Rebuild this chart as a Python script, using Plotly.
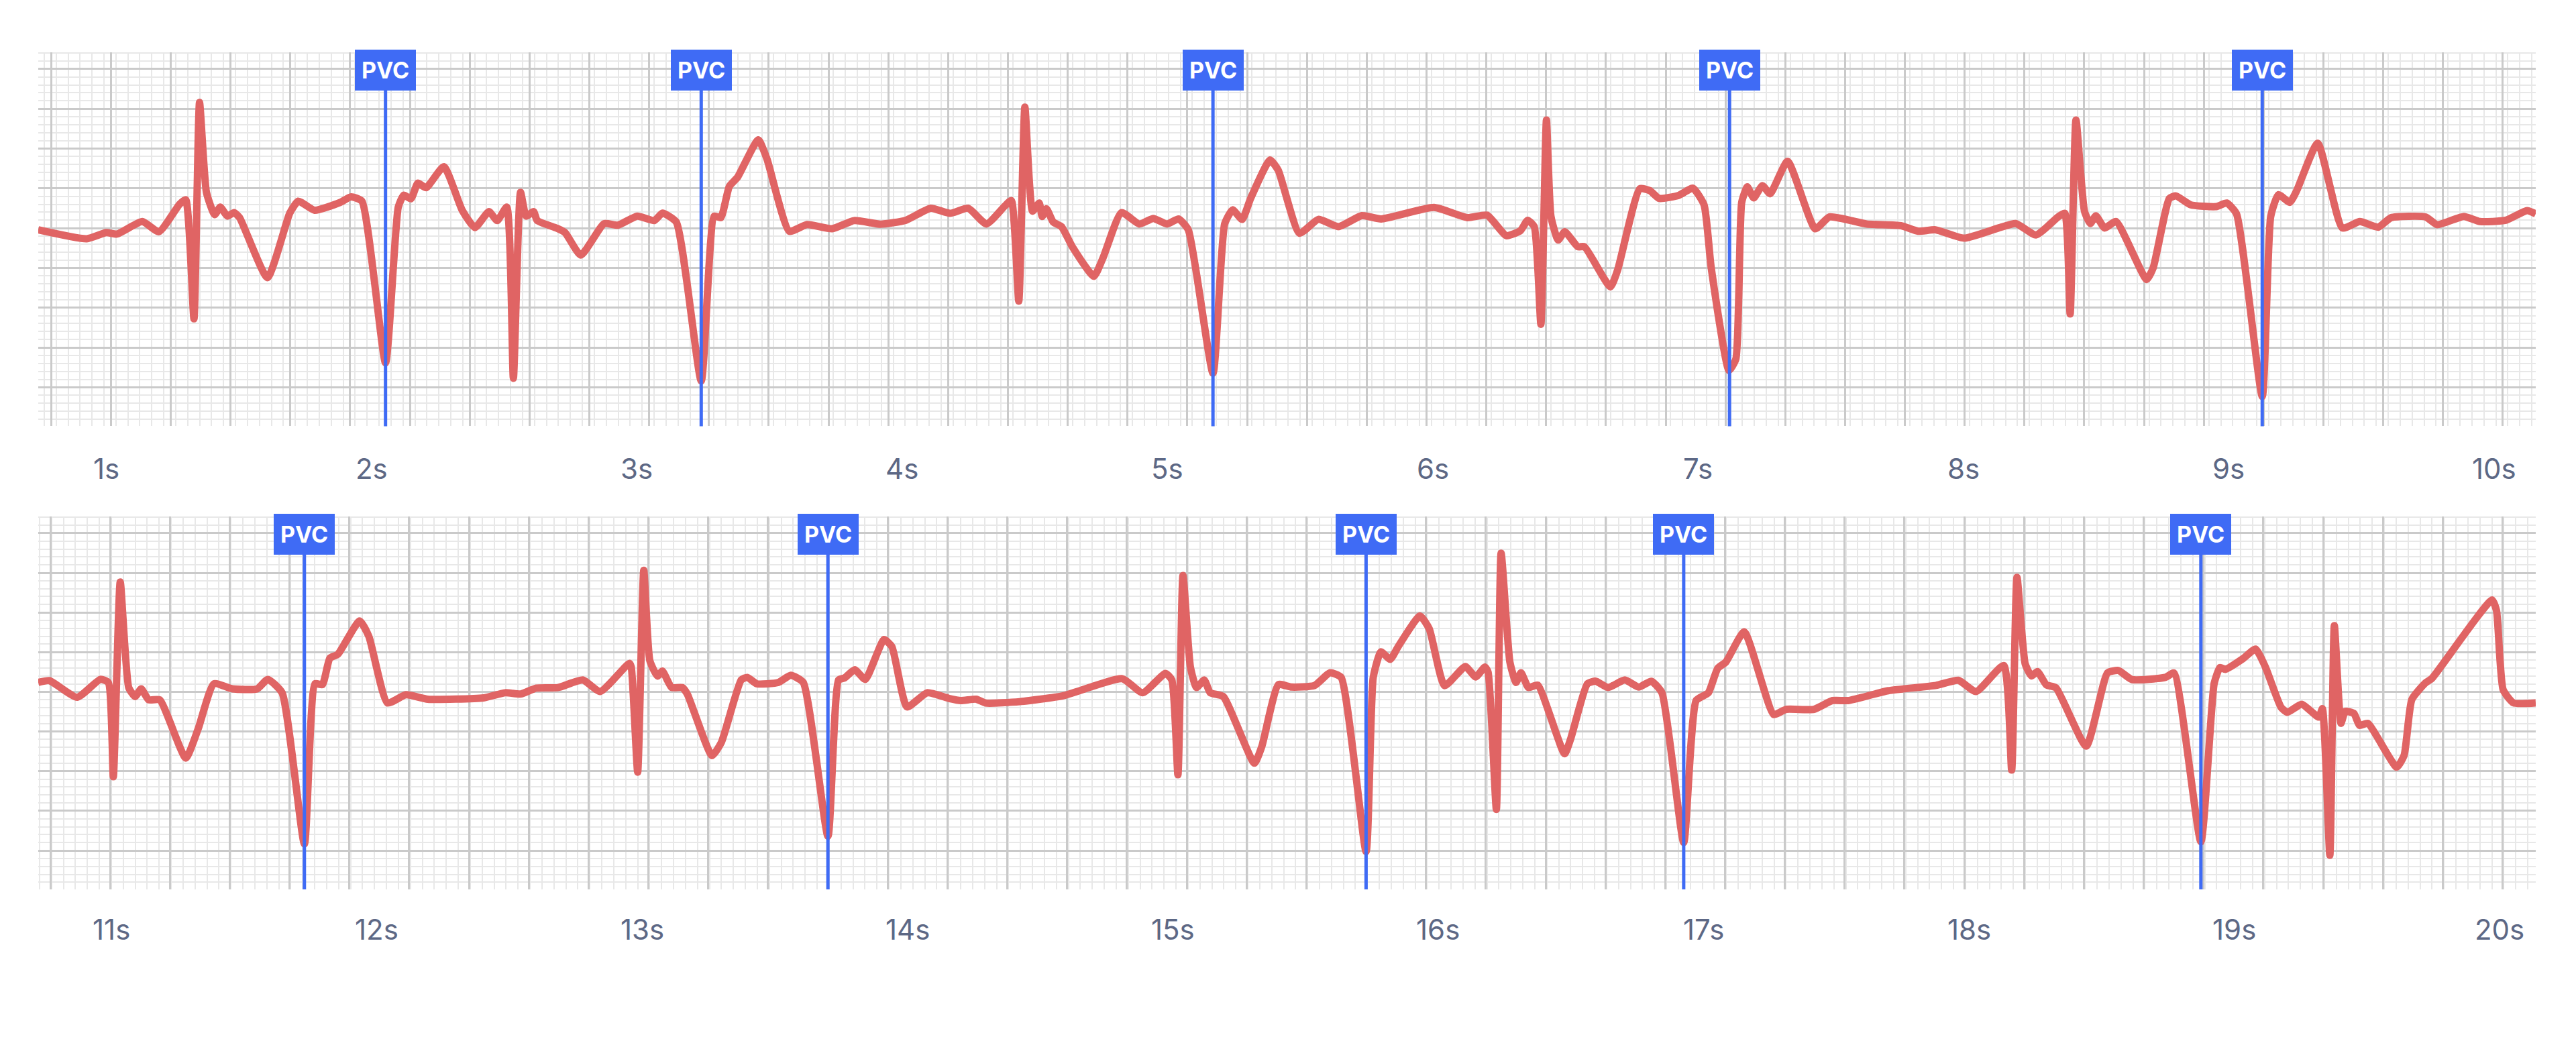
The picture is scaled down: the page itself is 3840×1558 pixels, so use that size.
import plotly.graph_objects as go

# ECG strip, two rows of ~10 s each
top_t = [0.744, 0.927, 1.000, 1.041, 1.136, 1.199, 1.277, 1.300, 1.331, 1.352, 1.378, 1.409, 1.430, 1.457,
         1.482, 1.503, 1.608, 1.692, 1.724, 1.786, 1.880, 1.923, 1.964, 2.053, 2.101, 2.122, 2.149, 2.175,
         2.206, 2.273, 2.342, 2.390, 2.443, 2.474, 2.510, 2.535, 2.562, 2.583, 2.611, 2.625, 2.698, 2.730,
         2.789, 2.877, 2.929, 3.002, 3.066, 3.097, 3.149, 3.243, 3.292, 3.317, 3.349, 3.380, 3.458, 3.491,
         3.575, 3.642, 3.736, 3.820, 3.919, 4.014, 4.108, 4.181, 4.249, 4.318, 4.387, 4.412, 4.440, 4.463,
         4.492, 4.517, 4.528, 4.544, 4.570, 4.601, 4.643, 4.723, 4.758, 4.827, 4.894, 4.947, 4.999, 5.042,
         5.079, 5.172, 5.216, 5.246, 5.282, 5.314, 5.387, 5.418, 5.498, 5.569, 5.645, 5.733, 5.806, 6.005,
         6.131, 6.205, 6.278, 6.331, 6.358, 6.383, 6.408, 6.429, 6.446, 6.473, 6.498, 6.547, 6.572, 6.670,
         6.697, 6.781, 6.819, 6.854, 6.928, 6.981, 7.023, 7.050, 7.117, 7.143, 7.165, 7.186, 7.210, 7.243,
         7.272, 7.338, 7.442, 7.496, 7.636, 7.765, 7.830, 7.895, 8.003, 8.133, 8.198, 8.274, 8.360, 8.383,
         8.403, 8.425, 8.457, 8.479, 8.500, 8.533, 8.576, 8.691, 8.716, 8.777, 8.802, 8.857, 8.954, 8.993,
         9.030, 9.127, 9.159, 9.188, 9.231, 9.257, 9.336, 9.429, 9.495, 9.564, 9.613, 9.743, 9.786, 9.887,
         9.948, 10.045, 10.125, 10.158]
top_mv = [-0.02, -0.133, -0.056, -0.074, 0.083, -0.045, 0.302, 0.358, -1.14, 1.58, 0.45, 0.17, 0.264, 0.151,
          0.196, 0.132, -0.622, 0.188, 0.339, 0.225, 0.320, 0.393, 0.339, -1.694, 0.264, 0.415, 0.370, 0.566,
          0.508, 0.773, 0.225, 0.008, 0.207, 0.095, 0.264, -1.887, 0.45, 0.151, 0.207, 0.095, 0.0, -0.056,
          -0.339, 0.056, 0.037, 0.151, 0.095, 0.188, 0.076, -1.921, 0.151, 0.132, 0.525, 0.64, 1.11, 0.868,
          -0.039, 0.045, -0.008, 0.095, 0.05, 0.099, 0.250, 0.186, 0.250, 0.052, 0.277, 0.347, -0.917, 1.52,
          0.213, 0.316, 0.147, 0.244, 0.076, 0.019, -0.240, -0.605, -0.370, 0.196, 0.052, 0.122, 0.052, 0.116,
          -0.021, -1.823, 0.052, 0.230, 0.110, 0.374, 0.857, 0.727, -0.064, 0.110, 0.019, 0.157, 0.116, 0.260,
          0.132, 0.163, -0.095, -0.031, 0.099, 0.019, -1.208, 1.359, 0.147, -0.149, -0.045, -0.233, -0.233, -0.738,
          -0.529, 0.496, 0.471, 0.374, 0.413, 0.502, 0.293, -0.498, -1.789, -1.645, 0.324, 0.519, 0.380, 0.535,
          0.432, 0.841, -0.008, 0.141, 0.052, 0.031, -0.039, -0.021, -0.126, 0.002, 0.058, -0.085, 0.147, 0.186,
          -1.079, 1.359, 0.213, 0.058, 0.155, 0.002, 0.083, -0.645, -0.498, 0.374, 0.405, 0.293, 0.271, 0.316,
          0.180, -2.116, 0.147, 0.421, 0.324, 0.471, 1.068, 0.002, 0.083, 0.012, 0.132, 0.141, 0.044, 0.147,
          0.083, 0.099, 0.221, 0.180]

bot_t = [10.724, 10.766, 10.871, 10.958, 10.988, 11.007, 11.033, 11.065, 11.089, 11.112, 11.140, 11.182,
         11.280, 11.327, 11.386, 11.456, 11.549, 11.589, 11.643, 11.727, 11.767, 11.795, 11.823, 11.853,
         11.935, 11.970, 12.040, 12.110, 12.192, 12.402, 12.484, 12.543, 12.601, 12.683, 12.776, 12.842,
         12.952, 12.959, 12.983, 13.006, 13.029, 13.058, 13.076, 13.111, 13.151, 13.170, 13.263, 13.298,
         13.373, 13.396, 13.432, 13.513, 13.560, 13.607, 13.700, 13.740, 13.763, 13.801, 13.841, 13.911,
         13.941, 13.998, 14.074, 14.156, 14.201, 14.259, 14.294, 14.423, 14.586, 14.809, 14.886, 14.972,
         14.996, 15.019, 15.038, 15.066, 15.089, 15.118, 15.141, 15.190, 15.307, 15.335, 15.398, 15.447,
         15.533, 15.592, 15.634, 15.728, 15.755, 15.784, 15.819, 15.849, 15.931, 15.966, 16.024, 16.102,
         16.141, 16.176, 16.188, 16.219, 16.237, 16.270, 16.293, 16.312, 16.340, 16.375, 16.476, 16.499,
         16.562, 16.593, 16.640, 16.703, 16.756, 16.803, 16.843, 16.925, 16.972, 17.018, 17.053, 17.084,
         17.153, 17.264, 17.311, 17.416, 17.486, 17.545, 17.696, 17.876, 17.960, 18.027, 18.131, 18.161,
         18.181, 18.212, 18.236, 18.258, 18.292, 18.328, 18.442, 18.522, 18.563, 18.614, 18.740, 18.773,
         18.874, 18.924, 18.946, 18.966, 19.033, 19.080, 19.117, 19.176, 19.200, 19.254, 19.318, 19.332,
         19.360, 19.377, 19.402, 19.418, 19.451, 19.472, 19.503, 19.612, 19.640, 19.669, 19.720, 19.744,
         19.971, 19.988, 20.013, 20.052, 20.136]
bot_mv = [0.118, 0.141, -0.069, 0.157, 0.118, -1.07, 1.384, 0.054, -0.060, 0.037, -0.101, -0.101,
          -0.835, -0.463, 0.101, 0.037, 0.037, 0.157, -0.012, -1.917, 0.101, 0.091, 0.424, 0.473,
          0.893, 0.698, -0.140, -0.037, -0.093, -0.076, -0.012, -0.027, 0.047, 0.054, 0.149, 0.004,
          0.360, 0.312, -1.012, 1.531, 0.392, 0.198, 0.262, 0.054, 0.054, -0.027, -0.804, -0.640,
          0.149, 0.182, 0.101, 0.118, 0.209, 0.118, -1.820, 0.149, 0.176, 0.279, 0.157, 0.659,
          0.570, -0.190, -0.012, -0.083, -0.110, -0.093, -0.141, -0.124, -0.050, 0.165, -0.012, 0.232,
          0.149, -1.045, 1.467, 0.312, 0.054, 0.149, -0.012, -0.060, -0.899, -0.690, 0.091, 0.060,
          0.078, 0.240, 0.182, -2.014, 0.182, 0.504, 0.409, 0.570, 0.957, 0.795, 0.078, 0.318,
          0.188, 0.312, 0.246, -1.481, 1.748, 0.376, 0.118, 0.240, 0.054, 0.085, -0.781, -0.593,
          0.101, 0.134, 0.054, 0.149, 0.060, 0.134, -0.012, -1.899, -0.110, -0.012, 0.296, 0.376,
          0.756, -0.285, -0.221, -0.221, -0.110, -0.110, 0.014, 0.081, 0.145, 0.004, 0.332, -0.986,
          1.444, 0.351, 0.200, 0.256, 0.087, 0.050, -0.684, 0.238, 0.269, 0.155, 0.182, 0.238,
          -1.890, 0.105, 0.306, 0.283, 0.419, 0.539, 0.314, -0.194, -0.258, -0.157, -0.318, -0.213,
          -2.06, 0.835, -0.397, -0.246, -0.273, -0.424, -0.397, -0.950, -0.800, -0.097, 0.112, 0.167,
          1.157, 1.025, 0.027, -0.139, -0.139]

pvc_top = [2.053, 3.243, 5.172, 7.119, 9.127]
pvc_bot = [11.727, 13.700, 15.728, 16.925, 18.874]
sec_top = list(range(1, 11))
sec_bot = list(range(11, 21))

ECG_RED = '#E06464'
PVC_BLUE = '#3F6BF5'
LABEL_GRAY = '#5D6885'

fig = go.Figure()
fig.add_trace(go.Scatter(x=top_t, y=top_mv, mode='lines', xaxis='x', yaxis='y',
                         line=dict(color=ECG_RED, width=11, shape='spline', smoothing=0.5)))
fig.add_trace(go.Scatter(x=bot_t, y=bot_mv, mode='lines', xaxis='x2', yaxis='y2',
                         line=dict(color=ECG_RED, width=11, shape='spline', smoothing=0.5)))

grid_x = dict(showgrid=True, gridcolor='#CACACA', gridwidth=2.5, dtick=0.2254,
              minor=dict(showgrid=True, gridcolor='#E8E8E8', gridwidth=2, dtick=0.04508),
              showticklabels=False, zeroline=False, showline=False, ticks='')
grid_y = dict(showgrid=True, gridcolor='#CACACA', gridwidth=2.5, dtick=0.5, tick0=0,
              minor=dict(showgrid=True, gridcolor='#E8E8E8', gridwidth=2, dtick=0.1),
              showticklabels=False, zeroline=False, showline=False, ticks='',
              range=[-2.49, 2.21])

# page body adds an 8px margin, so the figure is 16px smaller than the window
fig.update_layout(
    width=3824, height=1542,
    margin=dict(l=49, r=52, t=70, b=224),
    plot_bgcolor='white', paper_bgcolor='white',
    showlegend=False,
    xaxis=dict(grid_x, domain=[0, 1], range=[0.744, 10.158], tick0=1.018, anchor='y'),
    yaxis=dict(grid_y, domain=[0.5533, 1], anchor='x'),
    xaxis2=dict(grid_x, domain=[0, 1], range=[10.724, 20.136], tick0=10.995, anchor='y2'),
    yaxis2=dict(grid_y, domain=[0, 0.4455], anchor='x2'),
)

# PVC markers
for xr, yr, marks in (('x', 'y', pvc_top), ('x2', 'y2', pvc_bot)):
    for t in marks:
        fig.add_shape(type='line', xref=xr, yref=yr + ' domain', x0=t, x1=t, y0=0, y1=0.93,
                      line=dict(color=PVC_BLUE, width=5))
        fig.add_annotation(x=t, y=0.952, xref=xr, yref=yr + ' domain', text='<b>PVC</b>',
                           yanchor='middle', showarrow=False,
                           font=dict(family='Inter', size=34, color='white'),
                           bgcolor=PVC_BLUE, bordercolor=PVC_BLUE, borderwidth=1, borderpad=9)

# second labels under each strip
for xr, secs, ypos in (('x', sec_top, 0.503), ('x2', sec_bot, -0.048)):
    for s in secs:
        fig.add_annotation(x=s, y=ypos, xref=xr, yref='paper', text=f'{s}s', showarrow=False,
                           yanchor='middle', font=dict(family='Inter', size=42, color=LABEL_GRAY))

fig.write_html('out.html')
